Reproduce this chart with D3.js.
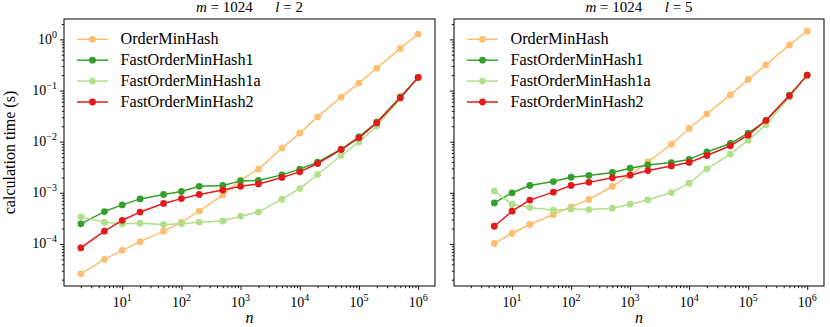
<!DOCTYPE html>
<html><head><meta charset="utf-8">
<script src="https://cdn.jsdelivr.net/npm/d3@7"></script>
<style>
body{margin:0;background:#fff;}
svg{display:block;font-family:"Liberation Serif","Times New Roman",serif;}
</style></head>
<body><svg id="chart" width="830" height="327"></svg>
<script>
const seriesNames = ["OrderMinHash","FastOrderMinHash1","FastOrderMinHash1a","FastOrderMinHash2"];
const seriesColors = ["#fdbf6f","#33a02c","#b2df8a","#e31a1c"];

const nLeft = [2,5,10,20,50,100,200,500,1000,2000,5000,10000,20000,50000,100000,200000,500000,1000000];
const nRight = [5,10,20,50,100,200,500,1000,2000,5000,10000,20000,50000,100000,200000,500000,1000000];

// l = 2
const left_OrderMinHash = [2.6e-5,5.0e-5,7.5e-5,1.11e-4,1.78e-4,2.66e-4,4.4e-4,9.1e-4,1.77e-3,2.9e-3,7.5e-3,0.0147,0.0306,0.0743,0.14,0.274,0.667,1.27];
const left_Fast1 = [2.47e-4,4.3e-4,5.8e-4,7.6e-4,9.3e-4,1.06e-3,1.34e-3,1.39e-3,1.71e-3,1.74e-3,2.24e-3,2.9e-3,3.96e-3,7.1e-3,0.0124,0.024,0.075,0.18];
const left_Fast1a = [3.39e-4,2.66e-4,2.47e-4,2.54e-4,2.4e-4,2.47e-4,2.66e-4,2.82e-4,3.48e-4,4.2e-4,7.5e-4,1.21e-3,2.28e-3,5.37e-3,0.0099,0.0201,0.070,0.18];
const left_Fast2 = [8.35e-5,1.78e-4,2.9e-4,4.2e-4,6.2e-4,7.7e-4,9.3e-4,1.13e-3,1.34e-3,1.49e-3,2.0e-3,2.57e-3,3.74e-3,7.0e-3,0.0119,0.0233,0.072,0.18];

// l = 5
const right_OrderMinHash = [1.02e-4,1.6e-4,2.4e-4,3.76e-4,5.3e-4,7.4e-4,1.33e-3,2.24e-3,4.0e-3,8.9e-3,0.0181,0.035,0.082,0.165,0.318,0.78,1.45];
const right_Fast1 = [6.35e-4,1.0e-3,1.39e-3,1.66e-3,2.02e-3,2.19e-3,2.5e-3,3.03e-3,3.5e-3,3.9e-3,4.5e-3,6.3e-3,9.2e-3,0.0147,0.0255,0.081,0.2];
const right_Fast1a = [1.09e-3,5.9e-4,5.15e-4,4.57e-4,4.84e-4,4.7e-4,5.0e-4,5.98e-4,7.26e-4,1.01e-3,1.54e-3,2.95e-3,5.7e-3,0.0107,0.0213,0.075,0.2];
const right_Fast2 = [2.22e-4,4.37e-4,7.2e-4,1.03e-3,1.39e-3,1.6e-3,1.96e-3,2.21e-3,2.72e-3,3.36e-3,3.92e-3,5.37e-3,8.3e-3,0.0134,0.026,0.0787,0.2];

const titlesL = [2, 5];
const xTickExps = [1,2,3,4,5,6];
const yTickExps = [-4,-3,-2,-1,0];

const panels = [
  {x0:64, x1:435, n:nLeft, l:titlesL[0], series:[left_OrderMinHash,left_Fast1,left_Fast1a,left_Fast2], yLabels:true},
  {x0:454, x1:824, n:nRight, l:titlesL[1], series:[right_OrderMinHash,right_Fast1,right_Fast1a,right_Fast2], yLabels:false}
];
const yTop = 19, yBot = 286;

// shared domains with matplotlib-like 5% margins in log space
const allN = nLeft.concat(nRight);
const lxMin = Math.log10(d3.min(allN)), lxMax = Math.log10(d3.max(allN));
const mx = (lxMax - lxMin) * 0.05;
const allV = panels.flatMap(p => p.series.flat());
const lyMin = Math.log10(d3.min(allV)), lyMax = Math.log10(d3.max(allV));
const my = (lyMax - lyMin) * 0.05;
const xDom = [Math.pow(10, lxMin - mx), Math.pow(10, lxMax + mx)];
const yDom = [Math.pow(10, lyMin - my), Math.pow(10, lyMax + my)];

const svg = d3.select("#chart");
const fs = 15;

function minorTicks(dom){
  const out = [];
  const a = Math.floor(Math.log10(dom[0])), b = Math.ceil(Math.log10(dom[1]));
  for (let e = a; e <= b; e++) for (let k = 2; k <= 9; k++){
    const v = k * Math.pow(10, e);
    if (v >= dom[0] && v <= dom[1]) out.push(v);
  }
  return out;
}

panels.forEach(p => {
  const x = d3.scaleLog().domain(xDom).range([p.x0, p.x1]);
  const y = d3.scaleLog().domain(yDom).range([yBot, yTop]);
  const g = svg.append("g");

  const cid = "clip" + p.x0;
  svg.append("clipPath").attr("id", cid).append("rect")
    .attr("x", p.x0).attr("y", yTop).attr("width", p.x1 - p.x0).attr("height", yBot - yTop);

  const xAxis = d3.axisBottom(x).tickValues(xTickExps.map(e => Math.pow(10, e))).tickSize(4).tickFormat("");
  const xMinor = d3.axisBottom(x).tickValues(minorTicks(xDom)).tickSize(2.2).tickFormat("");
  const yAxis = d3.axisLeft(y).tickValues(yTickExps.map(e => Math.pow(10, e))).tickSize(4).tickFormat("");
  const yMinor = d3.axisLeft(y).tickValues(minorTicks(yDom)).tickSize(2.2).tickFormat("");
  [[xAxis,"b"],[xMinor,"b"],[yAxis,"l"],[yMinor,"l"]].forEach(([ax, s]) => {
    const ga = g.append("g").attr("transform", s === "b" ? `translate(0,${yBot})` : `translate(${p.x0},0)`).call(ax);
    ga.select(".domain").remove();
    ga.selectAll("line").attr("stroke", "#000").attr("stroke-width", 0.9);
  });

  xTickExps.forEach(e => {
    const t = g.append("text").attr("x", x(Math.pow(10, e))).attr("y", yBot + 20.5)
      .attr("text-anchor", "middle").attr("font-size", fs - 1).attr("fill", "#000");
    t.append("tspan").text("10");
    t.append("tspan").attr("dy", -6).attr("font-size", 10).text(String(e));
  });
  if (p.yLabels){
    yTickExps.forEach(e => {
      const t = g.append("text").attr("x", p.x0 - 7).attr("y", y(Math.pow(10, e)) + 4.5)
        .attr("text-anchor", "end").attr("font-size", fs - 1).attr("fill", "#000");
      t.append("tspan").text("10");
      t.append("tspan").attr("dy", -6).attr("font-size", 10).text(e < 0 ? "\u2212" + (-e) : String(e));
    });
  }

  const line = d3.line().x(d => x(d[0])).y(d => y(d[1]));
  const dg = g.append("g").attr("clip-path", `url(#${cid})`);
  p.series.forEach((vals, i) => {
    const pts = p.n.map((n, j) => [n, vals[j]]);
    const sg = dg.append("g");
    sg.append("path").datum(pts).attr("d", line).attr("fill", "none")
      .attr("stroke", seriesColors[i]).attr("stroke-width", 1.5).attr("stroke-linejoin", "round");
    sg.selectAll("circle").data(pts).join("circle")
      .attr("cx", d => x(d[0])).attr("cy", d => y(d[1])).attr("r", 3.4).attr("fill", seriesColors[i]);
  });

  g.append("rect").attr("x", p.x0).attr("y", yTop).attr("width", p.x1 - p.x0).attr("height", yBot - yTop)
    .attr("fill", "none").attr("stroke", "#000").attr("stroke-width", 1);

  seriesNames.forEach((name, i) => {
    const ly = 39.3 + i * 20.9;
    g.append("line").attr("x1", p.x0 + 13).attr("x2", p.x0 + 44).attr("y1", ly).attr("y2", ly)
      .attr("stroke", seriesColors[i]).attr("stroke-width", 1.5);
    g.append("circle").attr("cx", p.x0 + 28.5).attr("cy", ly).attr("r", 3.4).attr("fill", seriesColors[i]);
    g.append("text").attr("x", p.x0 + 56.5).attr("y", ly + 5).attr("font-size", 16.2).attr("fill", "#000").text(name);
  });

  const cx = (p.x0 + p.x1) / 2;
  const tt = g.append("text").attr("x", cx).attr("y", 11.5).attr("text-anchor", "middle").attr("font-size", fs).attr("fill", "#000");
  tt.append("tspan").attr("font-style", "italic").text("m");
  tt.append("tspan").text(" = 1024\u2003\u2002");
  tt.append("tspan").attr("font-style", "italic").text("l");
  tt.append("tspan").text(" = " + p.l);

  g.append("text").attr("x", cx).attr("y", 322.5).attr("text-anchor", "middle").attr("font-size", fs + 1)
    .attr("font-style", "italic").attr("fill", "#000").text("n");
});

svg.append("text").attr("transform", `translate(15,${(yTop + yBot) / 2}) rotate(-90)`)
  .attr("text-anchor", "middle").attr("font-size", fs + 1).attr("fill", "#000").text("calculation time (s)");
</script>
</body></html>
